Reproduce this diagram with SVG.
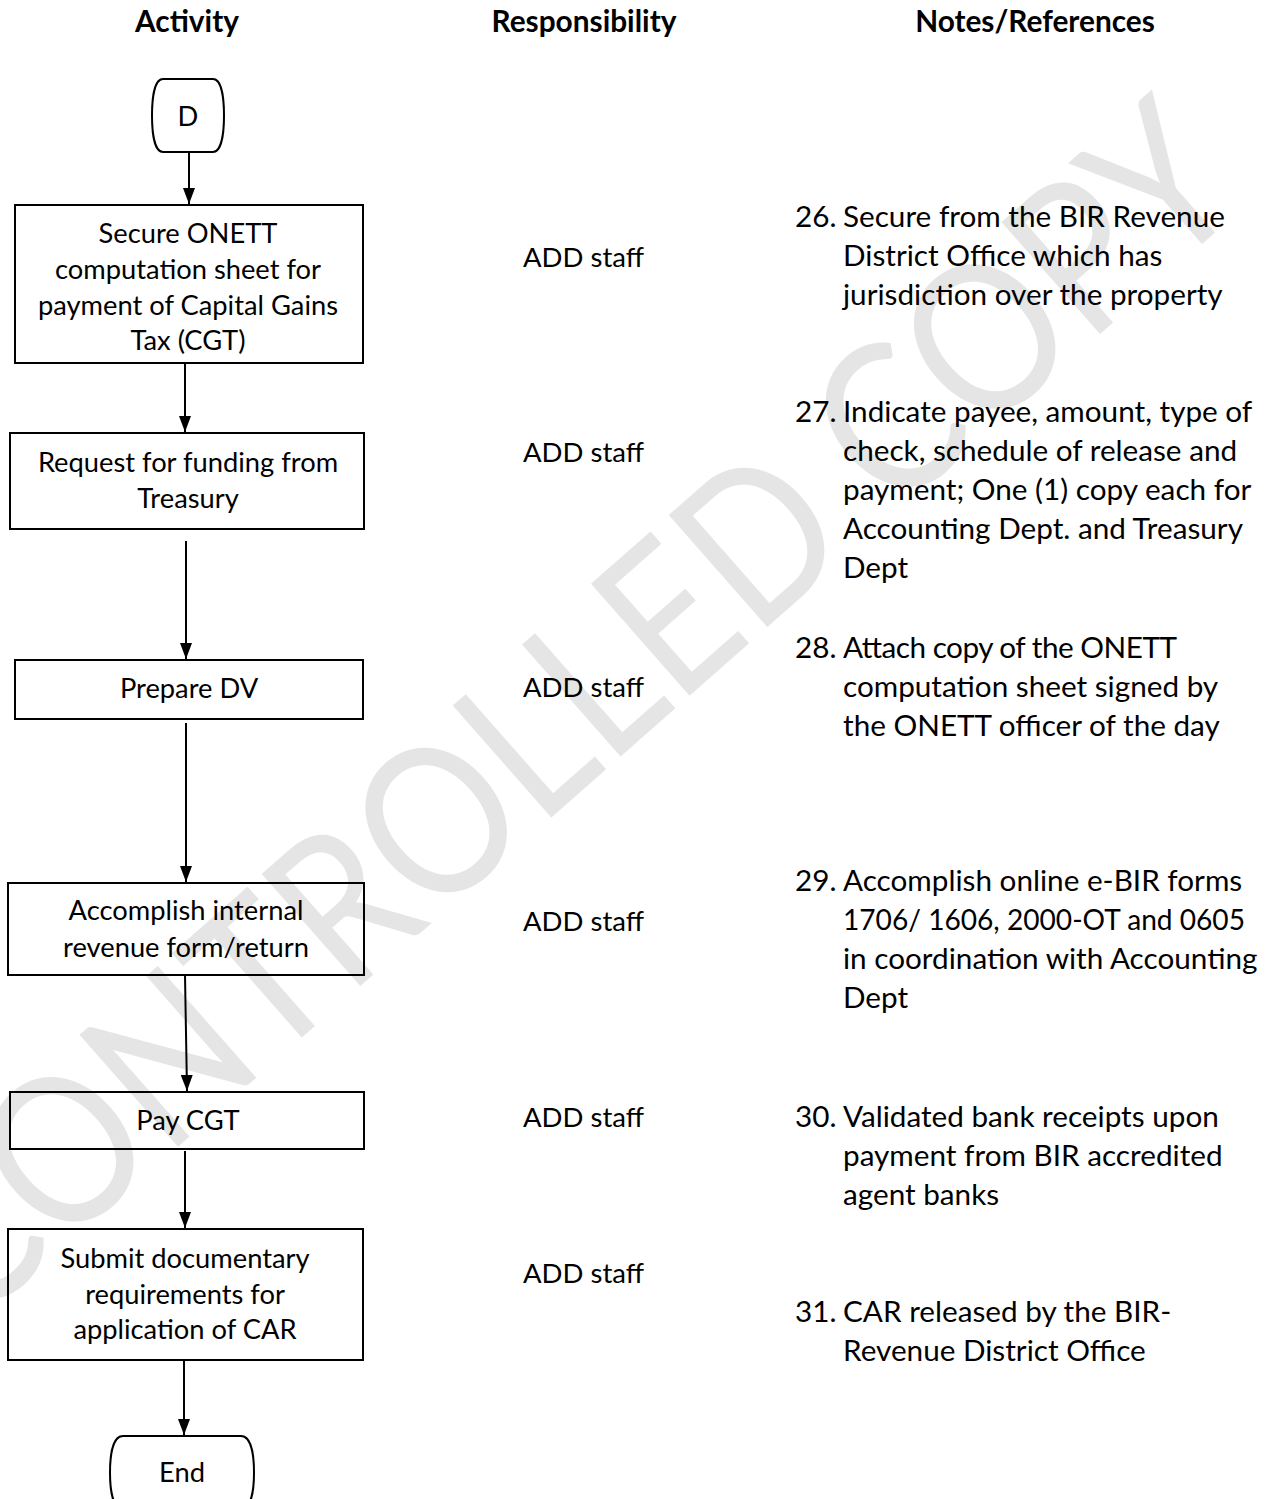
<svg xmlns="http://www.w3.org/2000/svg" width="1274" height="1499" viewBox="0 0 1274 1499">
  <style>
    .hdr { font-family: Lato, "Open Sans", sans-serif; font-weight: bold; font-size: 29.8px; fill: #000; text-anchor: middle; }
    .lbl { font-family: Lato, "Open Sans", sans-serif; font-size: 27.3px; fill: #000; text-anchor: middle; }
    .who { font-family: Lato, "Open Sans", sans-serif; font-size: 27.5px; fill: #000; }
    .txt { font-family: Lato, "Open Sans", sans-serif; font-size: 29.7px; fill: #000; }
    .box { fill: none; stroke: #000; stroke-width: 2; }
    .edge { fill: none; stroke: #000; stroke-width: 2; marker-end: url(#arrow); }
    .mark { font-family: Lato, "Open Sans", sans-serif; font-size: 208px; fill: #e5e5e5; }
  </style>
  <defs>
    <marker id="arrow" markerUnits="userSpaceOnUse" markerWidth="16" markerHeight="12" refX="16" refY="6" orient="auto">
      <path d="M0,0 L16,6 L0,12 Z" fill="#000"/>
    </marker>
  </defs>
  <rect width="1274" height="1499" fill="#fff"/>

  <!-- background watermark -->
  <text class="mark" x="-30" y="1330" textLength="1707" lengthAdjust="spacingAndGlyphs" transform="rotate(-41.4 -30 1330)">CONTROLLED COPY</text>

  <!-- column headings -->
  <g id="headings">
    <text class="hdr" x="187" y="32">Activity</text>
    <text class="hdr" x="584" y="32">Responsibility</text>
    <text class="hdr" x="1035" y="32">Notes/References</text>
  </g>

  <!-- connectors -->
  <g id="connectors">
    <path class="edge" d="M189,152 L189,204"/>
    <path class="edge" d="M185,363 L185,432"/>
    <path class="edge" d="M186,541 L186,659"/>
    <path class="edge" d="M186,723 L186,882"/>
    <path class="edge" d="M185,975 L187,1091"/>
    <path class="edge" d="M185,1151 L185,1228"/>
    <path class="edge" d="M184,1360 L184,1435"/>
  </g>

  <!-- activity nodes -->
  <g id="start-d">
    <path class="box" d="M163,79 L213,79 C222,79 224,100 224,115.5 C224,131 222,152 213,152 L163,152 C154,152 152,131 152,115.5 C152,100 154,79 163,79 Z"/>
    <text class="lbl" x="188" y="126">D</text>
  </g>
  <g id="secure-onett">
    <rect class="box" x="15" y="205" width="348" height="158"/>
    <text class="lbl" x="188" y="243">Secure ONETT</text>
    <text class="lbl" x="188" y="279">computation sheet for</text>
    <text class="lbl" x="188" y="315">payment of Capital Gains</text>
    <text class="lbl" x="188" y="350">Tax (CGT)</text>
  </g>
  <g id="request-funding">
    <rect class="box" x="10" y="433" width="354" height="96"/>
    <text class="lbl" x="188" y="472">Request for funding from</text>
    <text class="lbl" x="188" y="508">Treasury</text>
  </g>
  <g id="prepare-dv">
    <rect class="box" x="15" y="660" width="348" height="59"/>
    <text class="lbl" x="189" y="698">Prepare DV</text>
  </g>
  <g id="accomplish-form">
    <rect class="box" x="8" y="883" width="356" height="92"/>
    <text class="lbl" x="186" y="920">Accomplish internal</text>
    <text class="lbl" x="186" y="957">revenue form/return</text>
  </g>
  <g id="pay-cgt">
    <rect class="box" x="10" y="1092" width="354" height="57"/>
    <text class="lbl" x="188" y="1130">Pay CGT</text>
  </g>
  <g id="submit-docs">
    <rect class="box" x="8" y="1229" width="355" height="131"/>
    <text class="lbl" x="185" y="1268">Submit documentary</text>
    <text class="lbl" x="185" y="1304">requirements for</text>
    <text class="lbl" x="185" y="1339">application of CAR</text>
  </g>
  <g id="end">
    <path class="box" d="M123,1436 L241,1436 C252,1436 254,1458 254,1472.5 C254,1487 252,1509 241,1509 L123,1509 C112,1509 110,1487 110,1472.5 C110,1458 112,1436 123,1436 Z"/>
    <text class="lbl" x="182" y="1482">End</text>
  </g>

  <!-- responsibility column -->
  <g id="responsibility">
    <text class="who" x="523" y="267">ADD staff</text>
    <text class="who" x="523" y="462">ADD staff</text>
    <text class="who" x="523" y="697">ADD staff</text>
    <text class="who" x="523" y="931">ADD staff</text>
    <text class="who" x="523" y="1127">ADD staff</text>
    <text class="who" x="523" y="1283">ADD staff</text>
  </g>

  <!-- notes column -->
  <g id="note-26">
    <text class="txt" x="795" y="227">26.</text>
    <text class="txt" x="843" y="227">Secure from the BIR Revenue</text>
    <text class="txt" x="843" y="266">District Office which has</text>
    <text class="txt" x="843" y="305">jurisdiction over the property</text>
  </g>
  <g id="note-27">
    <text class="txt" x="795" y="422">27.</text>
    <text class="txt" x="843" y="422">Indicate payee, amount, type of</text>
    <text class="txt" x="843" y="461">check, schedule of release and</text>
    <text class="txt" x="843" y="500">payment; One (1) copy each for</text>
    <text class="txt" x="843" y="539">Accounting Dept. and Treasury</text>
    <text class="txt" x="843" y="578">Dept</text>
  </g>
  <g id="note-28">
    <text class="txt" x="795" y="658">28.</text>
    <text class="txt" x="843" y="658" textLength="334">Attach copy of the ONETT</text>
    <text class="txt" x="843" y="697">computation sheet signed by</text>
    <text class="txt" x="843" y="736">the ONETT officer of the day</text>
  </g>
  <g id="note-29">
    <text class="txt" x="795" y="891">29.</text>
    <text class="txt" x="843" y="891">Accomplish online e-BIR forms</text>
    <text class="txt" x="843" y="930" textLength="402" lengthAdjust="spacingAndGlyphs">1706/ 1606, 2000-OT and 0605</text>
    <text class="txt" x="843" y="969">in coordination with Accounting</text>
    <text class="txt" x="843" y="1008">Dept</text>
  </g>
  <g id="note-30">
    <text class="txt" x="795" y="1127">30.</text>
    <text class="txt" x="843" y="1127">Validated bank receipts upon</text>
    <text class="txt" x="843" y="1166">payment from BIR accredited</text>
    <text class="txt" x="843" y="1205">agent banks</text>
  </g>
  <g id="note-31">
    <text class="txt" x="795" y="1322">31.</text>
    <text class="txt" x="843" y="1322">CAR released by the BIR-</text>
    <text class="txt" x="843" y="1361">Revenue District Office</text>
  </g>
</svg>
